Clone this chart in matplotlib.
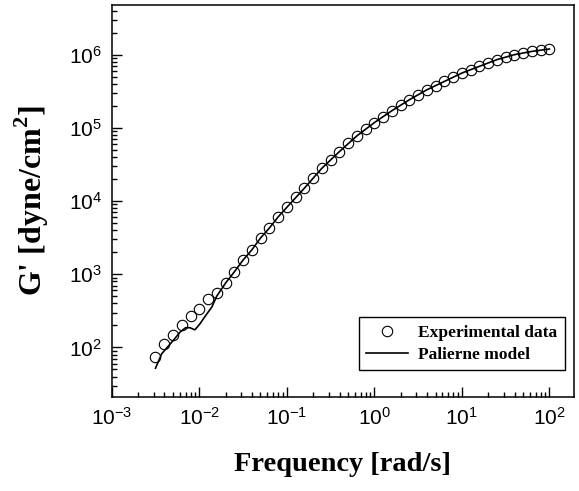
"""G' vs frequency: experimental data and Palierne model fit (log-log)."""
import matplotlib

matplotlib.use("Agg")
import matplotlib.pyplot as plt

freq = [0.00316, 0.00398, 0.00501, 0.00631, 0.00794,
        0.0100, 0.0126, 0.0158, 0.0200, 0.0251, 0.0316, 0.0398, 0.0501, 0.0631, 0.0794,
        0.100, 0.126, 0.158, 0.200, 0.251, 0.316, 0.398, 0.501, 0.631, 0.794,
        1.00, 1.26, 1.58, 2.00, 2.51, 3.16, 3.98, 5.01, 6.31, 7.94,
        10.0, 12.6, 15.8, 20.0, 25.1, 31.6, 39.8, 50.1, 63.1, 79.4, 100.0]
g_exp = [73.6, 112, 146, 204, 266,
         339, 465, 555, 760, 1076, 1585, 2160, 3160, 4270, 6100,
         8200, 11200, 14900, 20400, 28000, 36700, 47300, 61700, 77600, 96000,
         118000, 143000, 171000, 207000, 242000, 283000, 331000, 376000, 431000, 495000,
         561000, 624000, 692000, 769000, 855000, 929000, 1000000, 1054000, 1109000, 1170000,
         1197000]

# Palierne model curve
freq_model = [0.00316, 0.00372, 0.00525, 0.00603, 0.00697, 0.00783, 0.00891,
              0.0102, 0.0115, 0.0139, 0.0158, 0.0200, 0.0251, 0.0316, 0.0398,
              0.0501, 0.0631, 0.0794, 0.100, 0.158, 0.251, 0.398, 0.631,
              1.00, 1.58, 2.51, 3.98, 6.31, 10.0, 15.8, 25.1, 39.8, 63.1, 100.0]
g_model = [52, 82, 132, 162, 186, 186, 174,
           211, 260, 356, 500, 760, 1076, 1560, 2150,
           3130, 4270, 6050, 8200, 14900, 28000, 47300, 77600,
           118000, 171000, 242000, 331000, 431000, 561000, 692000, 855000,
           1000000, 1109000, 1195000]

plt.rcParams["font.family"] = "Liberation Sans"
plt.rcParams["axes.unicode_minus"] = False

fig = plt.figure(figsize=(5.79, 4.91), dpi=100)
ax = fig.add_axes([0.193, 0.191, 0.798, 0.799])

ax.plot(freq, g_exp, "o", ms=7.5, mfc="none", mec="k", mew=0.8,
        label="Experimental data")
ax.plot(freq_model, g_model, "-", color="k", lw=1.2, label="Palierne model")

ax.set_xscale("log")
ax.set_yscale("log")
ax.set_xlim(1e-3, 190)
ax.set_ylim(10 ** 1.32, 10 ** 6.68)

for s in ax.spines.values():
    s.set_linewidth(1.1)
ax.tick_params(which="both", direction="in", top=False, right=False,
               labelsize=15, width=1.0)
ax.tick_params(which="major", length=7, pad=7)
ax.tick_params(which="minor", length=3.5)

ax.set_xlabel("Frequency [rad/s]", labelpad=17,
              family="Liberation Serif", weight="bold", size=20.5)
ax.set_ylabel(r"G' [dyne/cm$^{\mathdefault{2}}$]", labelpad=13,
              family="Liberation Serif", weight="bold", size=23)

ax.legend(loc="lower right", bbox_to_anchor=(0.98, 0.07), borderaxespad=0,
          frameon=True, fancybox=False, edgecolor="k", framealpha=1,
          numpoints=1, handlelength=2.4, handletextpad=0.6, labelspacing=0.35,
          prop=dict(family="Liberation Serif", weight="bold", size=12.5))

fig.savefig("out.png", dpi=100)
